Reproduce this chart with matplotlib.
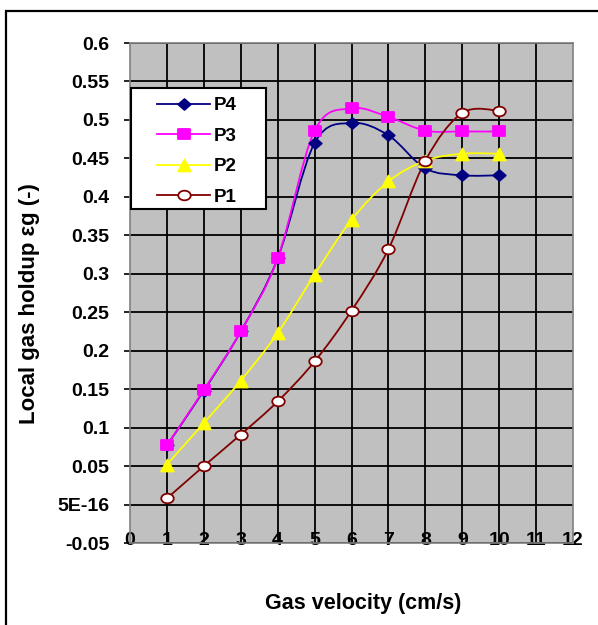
import numpy as np
import matplotlib
matplotlib.use("Agg")
import matplotlib.pyplot as plt
from matplotlib.path import Path
from matplotlib.patches import PathPatch, Rectangle
from matplotlib.lines import Line2D

plt.rcParams['font.family'] = ['Liberation Sans', 'DejaVu Sans']
plt.rcParams['font.weight'] = 'bold'

# ---- data ----
x_vals = [1, 2, 3, 4, 5, 6, 7, 8, 9, 10]
p4 = [0.077, 0.148, 0.225, 0.320, 0.470, 0.496, 0.480, 0.437, 0.428, 0.428]
p3 = [0.077, 0.149, 0.225, 0.320, 0.486, 0.515, 0.504, 0.486, 0.485, 0.485]
p2 = [0.052, 0.106, 0.161, 0.223, 0.299, 0.370, 0.420, 0.447, 0.456, 0.456]
p1 = [0.008, 0.050, 0.091, 0.134, 0.186, 0.252, 0.332, 0.447, 0.509, 0.512]
series_names = ['P4', 'P3', 'P2', 'P1']
y_ticks = [-0.05, 0.0, 0.05, 0.1, 0.15, 0.2, 0.25, 0.3, 0.35, 0.4, 0.45, 0.5, 0.55, 0.6]
y_tick_labels = ['-0.05', '5E-16', '0.05', '0.1', '0.15', '0.2', '0.25', '0.3',
                 '0.35', '0.4', '0.45', '0.5', '0.55', '0.6']
x_ticks = list(range(0, 13))
x_label = 'Gas velocity (cm/s)'
y_label = 'Local gas holdup εg (-)'

# slightly wide marker shapes (the original chart is stretched horizontally)
sx = 1.15
diamond = Path([(0, 1), (sx, 0), (0, -1), (-sx, 0), (0, 1)],
               [Path.MOVETO, Path.LINETO, Path.LINETO, Path.LINETO, Path.CLOSEPOLY])
square = Path([(-sx, -1), (sx, -1), (sx, 1), (-sx, 1), (-sx, -1)],
              [Path.MOVETO, Path.LINETO, Path.LINETO, Path.LINETO, Path.CLOSEPOLY])
tri = Path([(0, 1), (1.05, -1), (-1.05, -1), (0, 1)],
           [Path.MOVETO, Path.LINETO, Path.LINETO, Path.CLOSEPOLY])
_circ = Path.unit_circle()
ellipse = Path(_circ.vertices * np.array([1.3, 1.0]), _circ.codes)

styles = [
    dict(color='#000080', marker=diamond, ms=9.0, mfc='#000080', mec='#000080'),
    dict(color='#FF00FF', marker=square, ms=9.0, mfc='#FF00FF', mec='#FF00FF'),
    dict(color='#FFFF00', marker=tri, ms=9.0, mfc='#FFFF00', mec='#FFFF00'),
    dict(color='#800000', marker=ellipse, ms=9.0, mfc='white', mec='#800000'),
]


def smooth_path(xs, ys):
    pts = np.column_stack([xs, ys]).astype(float)
    n = len(pts)
    verts = [pts[0]]
    codes = [Path.MOVETO]
    for i in range(n - 1):
        p0 = pts[i - 1] if i > 0 else pts[i]
        p1_ = pts[i]
        p2_ = pts[i + 1]
        p3_ = pts[i + 2] if i + 2 < n else pts[i + 1]
        c1 = p1_ + (p2_ - p0) / 6.0
        c2 = p2_ - (p3_ - p1_) / 6.0
        verts += [c1, c2, p2_]
        codes += [Path.CURVE4] * 3
    return Path(verts, codes)


fig = plt.figure(figsize=(5.98, 6.25), dpi=100)

# outer chart frame
fig.patches.append(Rectangle((6 / 598, -0.1), 1.2, 1 - 11 / 625 + 0.1,
                             transform=fig.transFigure, fill=False,
                             edgecolor='black', lw=1.6))

ax = fig.add_axes([130 / 598, 1 - 543 / 625, 443 / 598, 500 / 625])
ax.set_facecolor('#C0C0C0')
ax.set_xlim(0, 12)
ax.set_ylim(-0.05, 0.6)

for yv in y_ticks:
    ax.axhline(yv, color='black', lw=1.3, zorder=1)
for xv in x_ticks[1:-1]:
    ax.axvline(xv, color='black', lw=1.3, zorder=1)

for sp in ax.spines.values():
    sp.set_color('#808080')
    sp.set_linewidth(1.2)

handles = []
for name, ys, st in zip(series_names, [p4, p3, p2, p1], styles):
    patch = PathPatch(smooth_path(x_vals, ys), facecolor='none',
                      edgecolor=st['color'], lw=1.3, zorder=3)
    ax.add_patch(patch)
    ax.plot(x_vals, ys, linestyle='none', marker=st['marker'], ms=st['ms'],
            mfc=st['mfc'], mec=st['mec'], mew=1.3, zorder=4)
    handles.append(Line2D([], [], color=st['color'], lw=1.3, marker=st['marker'],
                          ms=st['ms'], mfc=st['mfc'], mec=st['mec'], mew=1.3))

ax.set_yticks(y_ticks)
ax.set_yticklabels(y_tick_labels)
ax.set_xticks(x_ticks)
ax.set_xticklabels([str(v) for v in x_ticks])
ax.tick_params(axis='y', length=4, width=1.2, color='black', pad=11,
               labelsize=14)
ax.tick_params(axis='x', length=0, pad=-8, labelsize=14)
for lab in ax.get_xticklabels() + ax.get_yticklabels():
    lab.set_fontweight('bold')

# legend box (white with black border)
ax.add_patch(Rectangle(((131 - 130) / 443, (543 - 209) / 500),
                       (266 - 131) / 443, (209 - 88) / 500,
                       transform=ax.transAxes, facecolor='white',
                       edgecolor='black', lw=1.5, zorder=4.5))
leg = ax.legend(handles, series_names, loc='upper left',
                bbox_to_anchor=((157 - 130) / 443, (543 - 97) / 500),
                borderaxespad=0, borderpad=0,
                fontsize=13.5, handlelength=2.85, handletextpad=0.2,
                labelspacing=0.72, frameon=False, numpoints=1)
leg.set_zorder(5)
for t in leg.get_texts():
    t.set_fontweight('bold')

fig.text(363 / 598, 1 - 604 / 625, x_label, ha='center', va='center',
         fontsize=15.5, fontweight='bold')
fig.text(30 / 598, 1 - 304 / 625, y_label, ha='center', va='center',
         rotation=90, fontsize=16, fontweight='bold')

fig.savefig('out.png', dpi=100)
